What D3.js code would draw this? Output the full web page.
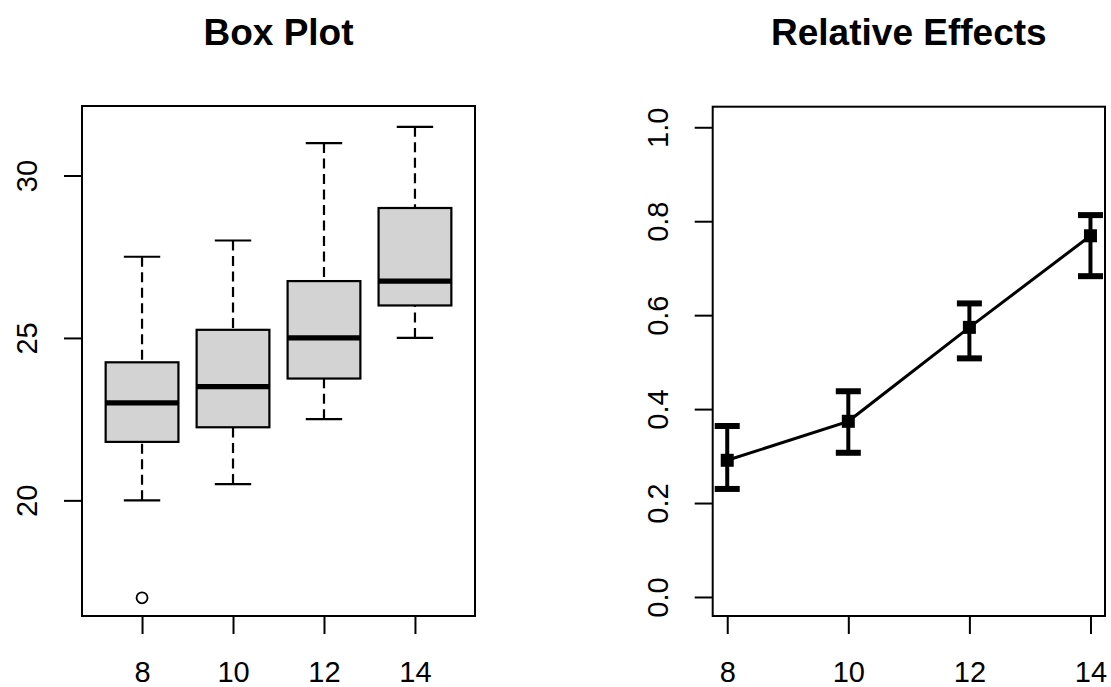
<!DOCTYPE html>
<html>
<head>
<meta charset="utf-8">
<script src="https://cdn.jsdelivr.net/npm/d3@7"></script>
<style>
  html, body { margin: 0; padding: 0; background: #fff; }
  svg { display: block; font-family: "Liberation Sans", Arial, sans-serif; }
</style>
</head>
<body>
<svg id="chart" width="1111" height="687"></svg>
<script>
// ---------- data ----------
const categories = ["8", "10", "12", "14"];
const lowerWhisker = [20, 20.5, 22.5, 25];
const q1 = [21.8, 22.25, 23.75, 26];
const medians = [23, 23.5, 25, 26.75];
const q3 = [24.25, 25.25, 26.75, 29];
const upperWhisker = [27.5, 28, 31, 31.5];
const outlierGroups = ["8"];
const outlierValues = [17];

const effectX = [8, 10, 12, 14];
const relEffect = [0.291, 0.374, 0.574, 0.769];
const ciLower = [0.230, 0.307, 0.508, 0.683];
const ciUpper = [0.364, 0.438, 0.625, 0.813];

const boxTicks = [20, 25, 30];
const effectYTicks = [0, 0.2, 0.4, 0.6, 0.8, 1.0];
const effectXTicks = [8, 10, 12, 14];
const titles = ["Box Plot", "Relative Effects"];

// ---------- layout ----------
const svg = d3.select("#chart");
const tickFont = 29, titleFont = 37, tickLen = 18, labelGap = 45;

// left panel
const L = { x0: 82, x1: 475, y0: 106, y1: 616 };
const xL = d3.scaleLinear().domain([0.34, 4.66]).range([L.x0, L.x1]);
const yL = d3.scaleLinear().domain([16.44, 32.14]).range([L.y1, L.y0]);
const xi = c => xL(categories.indexOf(c) + 1);
const boxW = xL(0.8) - xL(0), capW = boxW / 2;

// right panel
const R = { x0: 712.7, x1: 1105, y0: 106.7, y1: 616 };
const xR = d3.scaleLinear().domain([7.76, 14.24]).range([R.x0, R.x1]);
const yR = d3.scaleLinear().domain([-0.0405, 1.0438]).range([R.y1, R.y0]);

function styleAxis(g, vertical) {
  g.select(".domain").remove();
  g.selectAll(".tick line").attr("stroke", "#000").attr("stroke-width", 2);
  g.selectAll(".tick text").attr("fill", "#000").attr("font-size", tickFont);
  if (vertical) {
    g.selectAll(".tick text")
      .attr("x", null).attr("dy", null)
      .attr("text-anchor", "middle")
      .attr("transform", `translate(${-labelGap},0) rotate(-90)`);
  } else {
    g.selectAll(".tick text").attr("y", labelGap).attr("dy", "0.71em");
  }
}

// ---------- left: box plot ----------
const gL = svg.append("g");
const bandX = d3.scaleOrdinal().domain(categories).range(categories.map((c, i) => xL(i + 1)));

categories.forEach((c, i) => {
  const cx = xi(c);
  // whiskers (dashed, from whisker end to box)
  [[upperWhisker[i], q3[i]], [lowerWhisker[i], q1[i]]].forEach(([a, b]) => {
    gL.append("line")
      .attr("x1", cx).attr("x2", cx).attr("y1", yL(a)).attr("y2", yL(b))
      .attr("stroke", "#000").attr("stroke-width", 2.2)
      .attr("stroke-dasharray", "10,5.5");
    gL.append("line")
      .attr("x1", cx - capW / 2).attr("x2", cx + capW / 2)
      .attr("y1", yL(a)).attr("y2", yL(a))
      .attr("stroke", "#000").attr("stroke-width", 2.2);
  });
  gL.append("rect")
    .attr("x", cx - boxW / 2).attr("width", boxW)
    .attr("y", yL(q3[i])).attr("height", yL(q1[i]) - yL(q3[i]))
    .attr("fill", "#d3d3d3").attr("stroke", "#000").attr("stroke-width", 2.2);
  gL.append("line")
    .attr("x1", cx - boxW / 2).attr("x2", cx + boxW / 2)
    .attr("y1", yL(medians[i])).attr("y2", yL(medians[i]))
    .attr("stroke", "#000").attr("stroke-width", 5.2);
});
outlierGroups.forEach((c, k) => {
  gL.append("circle")
    .attr("cx", xi(c)).attr("cy", yL(outlierValues[k])).attr("r", 5.5)
    .attr("fill", "none").attr("stroke", "#000").attr("stroke-width", 1.8);
});
gL.append("rect")
  .attr("x", L.x0).attr("y", L.y0).attr("width", L.x1 - L.x0).attr("height", L.y1 - L.y0)
  .attr("fill", "none").attr("stroke", "#000").attr("stroke-width", 2);

gL.append("g").attr("transform", `translate(${L.x0},0)`)
  .call(d3.axisLeft(yL).tickValues(boxTicks).tickSize(tickLen).tickFormat(d3.format("d")))
  .call(g => styleAxis(g, true));
gL.append("g").attr("transform", `translate(0,${L.y1})`)
  .call(d3.axisBottom(bandX).tickSize(tickLen))
  .call(g => styleAxis(g, false));

gL.append("text").attr("x", (L.x0 + L.x1) / 2).attr("y", 45)
  .attr("text-anchor", "middle").attr("font-weight", "bold")
  .attr("font-size", titleFont).text(titles[0]);

// ---------- right: relative effects ----------
const gR = svg.append("g");
gR.append("rect")
  .attr("x", R.x0).attr("y", R.y0).attr("width", R.x1 - R.x0).attr("height", R.y1 - R.y0)
  .attr("fill", "none").attr("stroke", "#000").attr("stroke-width", 2);

gR.append("g").attr("transform", `translate(${R.x0},0)`)
  .call(d3.axisLeft(yR).tickValues(effectYTicks).tickSize(tickLen).tickFormat(d3.format(".1f")))
  .call(g => styleAxis(g, true));
gR.append("g").attr("transform", `translate(0,${R.y1})`)
  .call(d3.axisBottom(xR).tickValues(effectXTicks).tickSize(tickLen).tickFormat(d3.format("d")))
  .call(g => styleAxis(g, false));

const pts = effectX.map((x, i) => ({ x, y: relEffect[i], lo: ciLower[i], hi: ciUpper[i] }));
gR.append("path")
  .datum(pts)
  .attr("d", d3.line().x(d => xR(d.x)).y(d => yR(d.y)))
  .attr("fill", "none").attr("stroke", "#000").attr("stroke-width", 3);

const eb = gR.selectAll("g.eb").data(pts).join("g").attr("class", "eb");
eb.append("line")
  .attr("x1", d => xR(d.x)).attr("x2", d => xR(d.x))
  .attr("y1", d => yR(d.lo)).attr("y2", d => yR(d.hi))
  .attr("stroke", "#000").attr("stroke-width", 4);
["lo", "hi"].forEach(k => {
  eb.append("line")
    .attr("x1", d => xR(d.x) - 12.5).attr("x2", d => xR(d.x) + 12.5)
    .attr("y1", d => yR(d[k])).attr("y2", d => yR(d[k]))
    .attr("stroke", "#000").attr("stroke-width", 6);
});
eb.append("rect")
  .attr("x", d => xR(d.x) - 6.5).attr("y", d => yR(d.y) - 6.5)
  .attr("width", 13).attr("height", 13).attr("fill", "#000");

gR.append("text").attr("x", (R.x0 + R.x1) / 2).attr("y", 45)
  .attr("text-anchor", "middle").attr("font-weight", "bold")
  .attr("font-size", titleFont).text(titles[1]);
</script>
</body>
</html>
